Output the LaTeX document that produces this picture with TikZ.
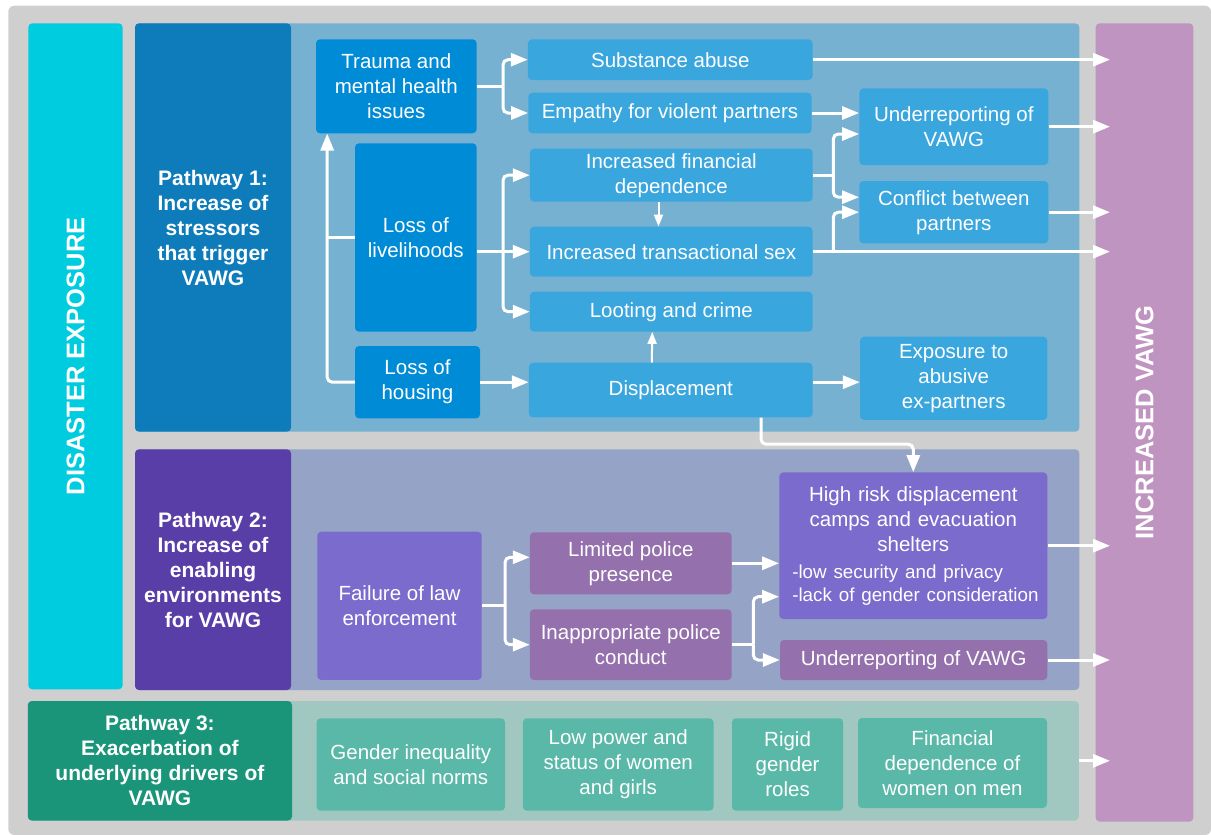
\documentclass[tikz,border=0pt]{standalone}
\usepackage{fontspec}
\setmainfont{Liberation Sans}
\usepackage{tikz}
\definecolor{grayback}{RGB}{207,207,207}
\definecolor{disaster}{RGB}{0,204,224}
\definecolor{vawg}{RGB}{192,148,192}
\definecolor{main}{RGB}{14,124,187}
\definecolor{mainpanel}{RGB}{119,177,210}
\definecolor{mainbox}{RGB}{0,139,214}
\definecolor{mainsub}{RGB}{58,166,222}
\definecolor{second}{RGB}{90,62,168}
\definecolor{secondpanel}{RGB}{148,163,198}
\definecolor{secondbox}{RGB}{123,107,204}
\definecolor{secondsub}{RGB}{148,112,172}
\definecolor{third}{RGB}{26,149,122}
\definecolor{thirdpanel}{RGB}{160,200,192}
\definecolor{thirdbox}{RGB}{90,184,168}
\usetikzlibrary{
	arrows.meta,
	positioning,
	calc
}
\tikzset{
  % arrow
	cstra/.style      ={-{Triangle[length=17pt,width=13pt]}, draw=white, line width=3pt, rounded corners=5pt}, % white arrow
	cstline/.style    ={draw=white, line width=3pt, rounded corners=5pt}, % stem
	cstsra/.style     ={-{Triangle[length=12pt,width=9pt]}, draw=white, line width=2pt}, % small arrow
  % panel
	cstpanel/.style   ={rounded corners=4pt, inner sep=0pt},
	cstbig/.style     ={cstpanel, rotate=90, text=white, font=\bfseries\fontsize{25.5}{30}\selectfont},
	cstlabel/.style   ={cstpanel, text=white, align=center, font=\bfseries\fontsize{21}{25}\selectfont},
  % node
	cstnode/.style    ={rounded corners=4pt, inner sep=0pt, text=white, align=center, font=\fontsize{20.5}{25}\selectfont},
	cstnode1/.style   ={cstnode, fill=mainbox},
	cstnode1s/.style  ={cstnode, fill=mainsub},
	cstnode2/.style   ={cstnode, fill=secondbox},
	cstnode2s/.style  ={cstnode, fill=secondsub},
	cstnode3/.style   ={cstnode, fill=thirdbox}
}
\begin{document}
\begin{tikzpicture}[x=1pt,y=-1pt]
	\useasboundingbox (0,0) rectangle (1211,835);
	\fill[grayback,rounded corners=6pt] (8.3,5.7) rectangle (1211,835);
	% columns
	\node[cstbig,fill=disaster,minimum width=666,minimum height=94.4] (disaster) at (75.5,356.3) {DISASTER EXPOSURE};
	\node[cstbig,fill=vawg,minimum width=798.4,minimum height=97.6] (vawg) at (1144.5,422.5) {INCREASED VAWG};
	\coordinate (vawgin) at (1110,0);
	% pathway panels
	\node[cstpanel,fill=mainpanel,minimum width=944.3,minimum height=408.4] (p1panel) at (607.2,227.5) {};
	\node[cstlabel,fill=main,minimum width=156,minimum height=408.4] (p1lab) at (213,227.5) {Pathway 1:\\Increase of\\stressors\\that trigger\\VAWG};
	\node[cstpanel,fill=secondpanel,minimum width=944.3,minimum height=240.7] (p2panel) at (607.2,569.7) {};
	\node[cstlabel,fill=second,minimum width=156,minimum height=240.7] (p2lab) at (213,569.7) {Pathway 2:\\Increase of\\enabling\\environments\\for VAWG};
	\node[cstpanel,fill=thirdpanel,minimum width=1051,minimum height=119.5] (p3panel) at (553.3,760.8) {};
	\node[cstlabel,fill=third,minimum width=264.2,minimum height=119.5] (p3lab) at (159.9,760.8) {Pathway 3:\\Exacerbation of\\underlying drivers of\\VAWG};
	% pathway 1
	\node[cstnode1,minimum width=160.6,minimum height=94] (trauma) at (396.3,86.3) {Trauma and\\mental health\\issues};
	\node[cstnode1,minimum width=121.6,minimum height=188.4] (livelihoods) at (415.8,237.5) {Loss of\\livelihoods};
	\node[cstnode1,minimum width=125,minimum height=72.3] (housing) at (417.5,382.2) {Loss of\\housing};
	\node[cstnode1s,minimum width=284.7,minimum height=40.7] (subst) at (670.3,59.7) {Substance abuse};
	\node[cstnode1s,minimum width=283.4,minimum height=40.6] (empathy) at (670,113) {Empathy for violent partners};
	\node[cstnode1s,minimum width=282.7,minimum height=53] (findep) at (671.3,175.2) {Increased financial\\dependence};
	\node[cstnode1s,minimum width=282.7,minimum height=50] (transex) at (671.3,251.7) {Increased transactional sex};
	\node[cstnode1s,minimum width=282.7,minimum height=40] (looting) at (671.3,311.7) {Looting and crime};
	\node[cstnode1s,minimum width=283.7,minimum height=54.6] (displace) at (670.8,390) {Displacement};
	\node[cstnode1s,minimum width=189,minimum height=76.7] (underrep1) at (953.8,126.7) {Underreporting of\\VAWG};
	\node[cstnode1s,minimum width=189,minimum height=62.3] (conflict) at (953.8,212.2) {Conflict between\\partners};
	\node[cstnode1s,minimum width=187.3,minimum height=83.3] (exposure) at (953.7,378.3) {Exposure to\\abusive\\ex-partners};
	% pathway 2
	\node[cstnode2,minimum width=164.4,minimum height=148.3] (failure) at (399.5,605.8) {Failure of law\\enforcement};
	\node[cstnode2s,minimum width=201.7,minimum height=62] (limited) at (630.8,563.3) {Limited police\\presence};
	\node[cstnode2s,minimum width=201.7,minimum height=70.7] (inapp) at (630.8,644.7) {Inappropriate police\\conduct};
	\node[cstnode2,minimum width=268,minimum height=146.7,text width=242,align=left] (highrisk) at (913.3,545.7)
		{{\centering High risk displacement\\camps and evacuation\\shelters\par}\vspace{4pt}
		{\fontsize{18.8}{23}\selectfont \mbox{-low security and privacy}\\\mbox{-lack of gender consideration}\par}};
	\node[cstnode2s,minimum width=267.3,minimum height=40] (underrep2) at (913.7,660) {Underreporting of VAWG};
	% pathway 3
	\node[cstnode3,minimum width=188.4,minimum height=92.4] (gender) at (410.8,764.5) {Gender inequality\\and social norms};
	\node[cstnode3,minimum width=190.7,minimum height=92.4] (lowpower) at (618.2,764.5) {Low power and\\status of women\\and girls};
	\node[cstnode3,minimum width=111.2,minimum height=92.4] (rigid) at (787.6,764.5) {Rigid\\gender\\roles};
	\node[cstnode3,minimum width=189,minimum height=90] (findep3) at (952.5,763) {Financial\\dependence of\\women on men};
	% connectors, pathway 1
	\coordinate (b1) at (503,86.3);
	\draw[cstline] (trauma.east) -- (b1);
	\draw[cstra] (b1) |- (subst.west);
	\draw[cstra] (b1) |- (empathy.west);
	\coordinate (b2) at (503,251.7);
	\draw[cstline] (livelihoods.east |- transex.west) -- (b2);
	\draw[cstra] (b2) |- (findep.west);
	\draw[cstra] (b2) -- (transex.west);
	\draw[cstra] (b2) |- (looting.west);
	\coordinate (b3) at (327.2,237.5);
	\draw[cstra] (housing.west) -| (trauma.south -| b3);
	\draw[cstline] (livelihoods.west) -- (b3);
	\draw[cstra] (housing.east) -- (housing.east -| displace.west);
	\draw[cstsra] ($(displace.north)+(-19,0)$) -- ($(looting.south)+(-19,0)$);
	\draw[cstsra] ($(findep.south)+(-12.8,0)$) -- ($(transex.north)+(-12.8,0)$);
	\draw[cstra] (displace.east |- housing.east) -- (exposure.west |- housing.east);
	\draw[cstra] ($(displace.south)+(90.2,0)$) -- ++(0,26.7) -| (highrisk.north);
	\draw[cstra] (empathy.east) -- (empathy.east -| underrep1.west);
	\coordinate (b4) at (833.3,175.2);
	\draw[cstline] (findep.east) -- (b4);
	\draw[cstra] (b4) |- ($(underrep1.west)+(0,7.3)$);
	\draw[cstra] (b4) |- ($(conflict.west)+(0,-15)$);
	\coordinate (b5) at (833.3,251.7);
	\draw[cstra] (transex.east) -- (vawgin |- transex.east);
	\draw[cstra] (b5) |- (conflict.west);
	% connectors, pathway 2
	\coordinate (b7) at (505,605.8);
	\draw[cstline] (failure.east) -- (b7);
	\draw[cstra] (b7) |- ($(limited.west)+(0,-6)$);
	\draw[cstra] (b7) |- (inapp.west);
	\draw[cstra] (limited.east) -- (limited.east -| highrisk.west);
	\coordinate (b8) at (753.3,644.7);
	\draw[cstline] (inapp.east) -- (b8);
	\draw[cstra] (b8) |- ($(highrisk.west)+(0,51)$);
	\draw[cstra] (b8) |- (underrep2.west);
	% into increased VAWG
	\draw[cstra] (subst.east) -- (vawgin |- subst.east);
	\draw[cstra] (underrep1.east) -- (vawgin |- underrep1.east);
	\draw[cstra] (conflict.east) -- (vawgin |- conflict.east);
	\draw[cstra] (highrisk.east) -- (vawgin |- highrisk.east);
	\draw[cstra] (underrep2.east) -- (vawgin |- underrep2.east);
	\draw[cstra] (p3panel.east) -- (vawgin |- p3panel.east);
\end{tikzpicture}
\end{document}
